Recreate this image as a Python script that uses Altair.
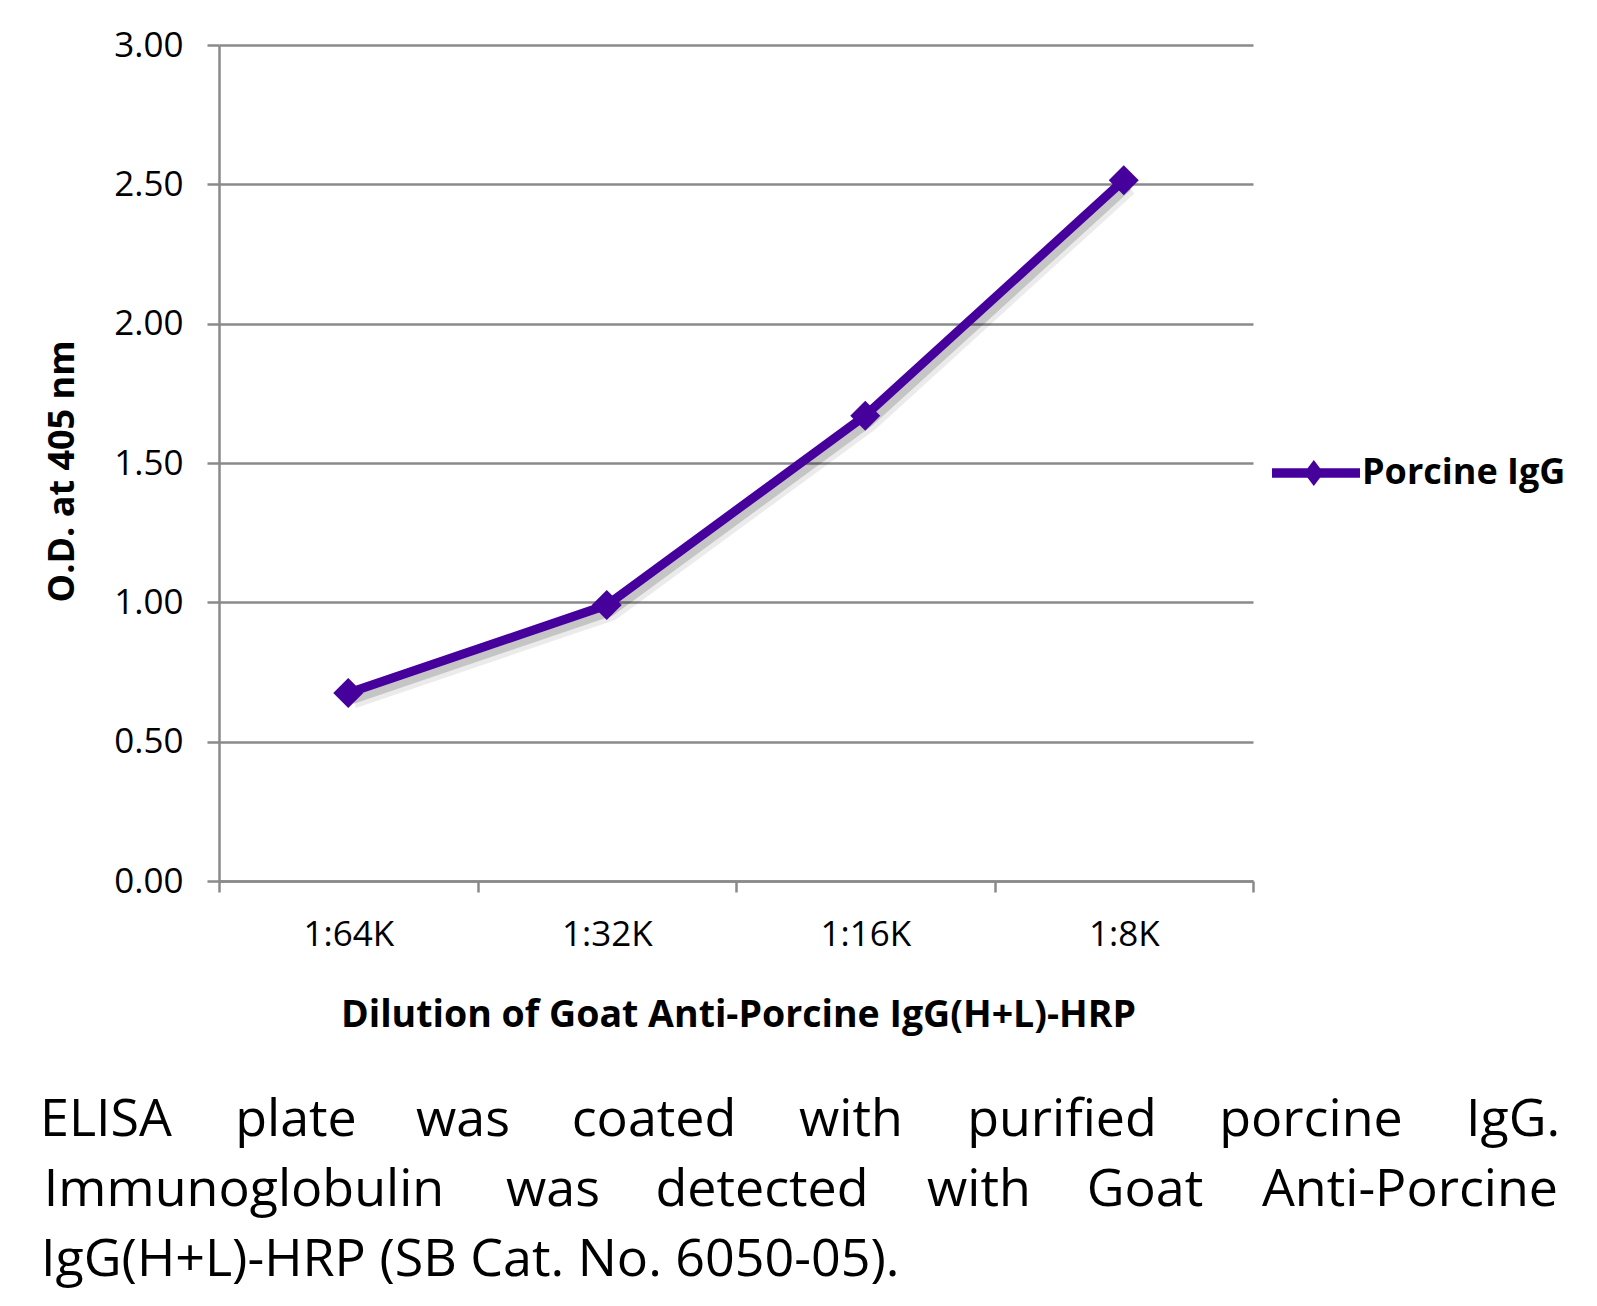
import altair as alt
import pandas as pd

# ---- data ----
dilutions = ["1:64K", "1:32K", "1:16K", "1:8K"]
od_405 = [0.675, 0.99, 1.67, 2.515]
series_name = "Porcine IgG"
y_tick_values = [0.0, 0.5, 1.0, 1.5, 2.0, 2.5, 3.0]

x_title = "Dilution of Goat Anti-Porcine IgG(H+L)-HRP"
y_title = "O.D. at 405 nm"

caption_line1 = ["ELISA", "plate", "was", "coated", "with", "purified", "porcine", "IgG."]
caption_line2 = ["Immunoglobulin", "was", "detected", "with", "Goat", "Anti-Porcine"]
caption_line3 = "IgG(H+L)-HRP (SB Cat. No. 6050-05)."

# ---- layout (pixels, relative to plot-area origin) ----
PAD_L, PAD_T = 219, 45
W, H = 1034, 836
line1_centers = [106, 296, 463, 654, 851, 1062, 1311, 1513]
line2_centers = [244, 553, 762, 979, 1145, 1410]
line_baselines = [1136, 1206, 1276]
caption_left = 41

PURPLE = "#46009C"
GRID = "#8a8a8a"
FONT = "Open Sans"

df = pd.DataFrame({"dilution": dilutions, "od": od_405, "series": [series_name] * len(dilutions)})

x_enc = alt.X(
    "dilution:N",
    sort=dilutions,
    bandPosition=0.5,
    scale=alt.Scale(type="band", paddingInner=0, paddingOuter=0),
    axis=alt.Axis(
        title=x_title,
        labelAngle=0,
        tickBand="extent",
        grid=False,
        domainColor=GRID, domainWidth=2.5,
        tickColor=GRID, tickWidth=2.5, tickSize=11,
        labelFont=FONT, labelFontSize=35, labelColor="black",
        labelBaseline="alphabetic", labelPadding=53,
        titleFont=FONT, titleFontSize=37.5, titleFontWeight="bold", titleColor="black",
        titleX=519, titleY=145, titleAlign="center", titleBaseline="alphabetic",
    ),
)
y_enc = alt.Y(
    "od:Q",
    scale=alt.Scale(domain=[0, 3], nice=False, zero=True),
    axis=alt.Axis(
        title=y_title,
        values=y_tick_values,
        format=".2f",
        grid=True, gridColor=GRID, gridWidth=2.5,
        domainColor=GRID, domainWidth=2.5,
        tickColor=GRID, tickWidth=2.5, tickSize=12,
        labelFont=FONT, labelFontSize=35, labelColor="black", labelPadding=24,
        titleFont=FONT, titleFontSize=36, titleFontWeight="bold", titleColor="black",
        titleAngle=270, titleX=73 - PAD_L, titleY=471 - PAD_T,
        titleAlign="center", titleBaseline="alphabetic",
    ),
)

base = alt.Chart(df).encode(x=x_enc, y=y_enc)

shadow1 = base.mark_line(color="black", opacity=0.08, strokeWidth=17, xOffset=5, yOffset=7)
shadow2 = base.mark_line(color="black", opacity=0.16, strokeWidth=10, xOffset=4, yOffset=6)
line = base.mark_line(color=PURPLE, strokeWidth=9)

c = -0.05
legend_path = (
    f"M-1,-0.11 L{c-0.142:.3f},-0.11 L{c:.3f},-0.295 L{c+0.142:.3f},-0.11 L1,-0.11 "
    f"L1,0.11 L{c+0.142:.3f},0.11 L{c:.3f},0.295 L{c-0.142:.3f},0.11 L-1,0.11 Z"
)

points = base.mark_point(shape="diamond", filled=True, size=900, opacity=1).encode(
    color=alt.Color(
        "series:N",
        scale=alt.Scale(domain=[series_name], range=[PURPLE]),
        legend=alt.Legend(
            title=None,
            orient="none",
            legendX=1272 - PAD_L,
            legendY=473 - PAD_T - 44,
            padding=0,
            symbolType=legend_path,
            symbolSize=88 * 88,
            symbolStrokeWidth=0,
            labelFont=FONT, labelFontSize=36, labelFontWeight="bold", labelColor="black",
            labelOffset=2, labelLimit=400,
        ),
    )
)

layers = [shadow1, shadow2, line, points]

text_base = alt.Chart(pd.DataFrame({"d": [0]}))
for word, cx in zip(caption_line1, line1_centers):
    layers.append(text_base.mark_text(font=FONT, fontSize=52, align="center", baseline="alphabetic", color="black", text=word)
                  .encode(x=alt.value(cx - PAD_L), y=alt.value(line_baselines[0] - PAD_T)))
for word, cx in zip(caption_line2, line2_centers):
    layers.append(text_base.mark_text(font=FONT, fontSize=52, align="center", baseline="alphabetic", color="black", text=word)
                  .encode(x=alt.value(cx - PAD_L), y=alt.value(line_baselines[1] - PAD_T)))
layers.append(text_base.mark_text(font=FONT, fontSize=52, align="left", baseline="alphabetic", color="black", text=caption_line3)
              .encode(x=alt.value(caption_left - PAD_L), y=alt.value(line_baselines[2] - PAD_T)))

chart = alt.layer(*layers).properties(
    width=W, height=H,
    autosize=alt.AutoSizeParams(type="none"),
    padding={"left": PAD_L, "top": PAD_T, "right": 1597 - PAD_L - W, "bottom": 1306 - PAD_T - H},
    background="white",
).configure_view(stroke=None)

chart.save("out.html", embed_options={"renderer": "svg", "actions": False})
